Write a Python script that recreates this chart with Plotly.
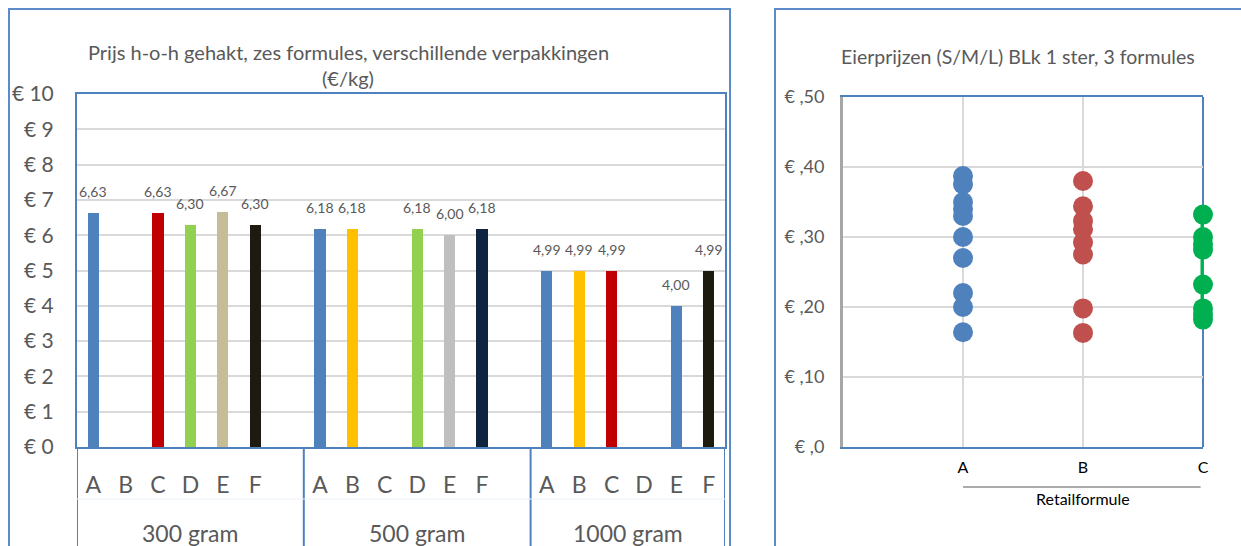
import plotly.graph_objects as go

# ---------------- data ----------------
groups = ["300 gram", "500 gram", "1000 gram"]
formules = ["A", "B", "C", "D", "E", "F"]
prices_300 = [6.63, None, 6.63, 6.30, 6.67, 6.30]
prices_500 = [6.18, 6.18, None, 6.18, 6.00, 6.18]
prices_1000 = [4.99, 4.99, 4.99, None, 4.00, 4.99]
colors_300 = ["#4F81BD", "#FFC000", "#C00000", "#92D050", "#C4BD97", "#1D1B10"]
colors_500 = ["#4F81BD", "#FFC000", "#C00000", "#92D050", "#BFBFBF", "#0F243E"]
colors_1000 = ["#4F81BD", "#FFC000", "#C00000", "#92D050", "#4F81BD", "#1D1B10"]
y_ticks_left = [0, 1, 2, 3, 4, 5, 6, 7, 8, 9, 10]
y_ticktext_left = ["€ 0", "€ 1", "€ 2", "€ 3", "€ 4", "€ 5", "€ 6", "€ 7", "€ 8", "€ 9", "€ 10"]
title_left = ["Prijs h-o-h gehakt, zes formules, verschillende verpakkingen", "(€/kg)"]

retail = ["A", "B", "C"]
eggs_A = [0.387, 0.375, 0.350, 0.340, 0.330, 0.300, 0.270, 0.220, 0.200, 0.164]
eggs_B = [0.380, 0.344, 0.323, 0.311, 0.292, 0.275, 0.198, 0.163]
eggs_C = [0.332, 0.300, 0.290, 0.282, 0.232, 0.198, 0.190, 0.182]
egg_colors = ["#4F81BD", "#C0504D", "#00B050"]
y_ticks_right = [0, 0.1, 0.2, 0.3, 0.4, 0.5]
y_ticktext_right = ["€ ,0", "€ ,10", "€ ,20", "€ ,30", "€ ,40", "€ ,50"]
title_right = "Eierprijzen (S/M/L) BLk 1 ster, 3 formules"
x_title_right = "Retailformule"

# ---------------- layout constants ----------------
W, H = 1241, 546
FONT = "Lato, Open Sans, sans-serif"
GREY = "#595959"
BLUE_LINE = "#4F81BD"
FRAME = "#5B8BC9"
GRID = "#D9D9D9"
SLOTS_PER_GROUP = 7


def px_x(v):
    return v / W


def px_y(v):
    return 1 - v / H


fig = go.Figure()

# ---------------- left chart: bars ----------------
all_prices = [prices_300, prices_500, prices_1000]
all_colors = [colors_300, colors_500, colors_1000]
bx, by, bc = [], [], []
for g, (vals, cols) in enumerate(zip(all_prices, all_colors)):
    for i, (v, c) in enumerate(zip(vals, cols)):
        if v is None:
            continue
        bx.append(g * SLOTS_PER_GROUP + i)
        by.append(v)
        bc.append(c)

fig.add_trace(go.Bar(x=bx, y=by, marker=dict(color=bc, line=dict(width=0)),
                     width=0.34, xaxis="x", yaxis="y", showlegend=False,
                     hoverinfo="skip"))

annotations = []
for x, v in zip(bx, by):
    annotations.append(dict(x=x, y=v, xref="x", yref="y", text=f"{v:.2f}".replace(".", ","),
                            showarrow=False, xanchor="center", yanchor="bottom", yshift=11,
                            font=dict(family=FONT, size=14, color=GREY)))

tick_pos, tick_txt = [], []
for g in range(len(groups)):
    for i, f in enumerate(formules):
        tick_pos.append(g * SLOTS_PER_GROUP + i)
        tick_txt.append(f)

n_slots = SLOTS_PER_GROUP * len(groups) - 1
x_range_left = [-0.5, n_slots - 0.5]

for g, name in enumerate(groups):
    start = g * SLOTS_PER_GROUP - 0.5
    end = min(start + SLOTS_PER_GROUP, n_slots - 0.5)
    annotations.append(dict(x=(start + end) / 2, y=px_y(533), xref="x", yref="paper",
                            text=name, showarrow=False, xanchor="center", yanchor="middle",
                            font=dict(family=FONT, size=23, color=GREY)))

annotations.append(dict(x=px_x(348), y=px_y(52), xref="paper", yref="paper", text=title_left[0],
                        showarrow=False, xanchor="center", yanchor="middle",
                        font=dict(family=FONT, size=20, color=GREY)))
annotations.append(dict(x=px_x(348), y=px_y(78), xref="paper", yref="paper", text=title_left[1],
                        showarrow=False, xanchor="center", yanchor="middle",
                        font=dict(family=FONT, size=20, color=GREY)))

shapes = []
for g in range(len(groups) + 1):
    xv = g * SLOTS_PER_GROUP - 0.5 if g < len(groups) else n_slots - 0.5
    shapes.append(dict(type="line", xref="x", yref="paper", x0=xv, x1=xv,
                       y0=px_y(447), y1=-0.02, line=dict(color=BLUE_LINE, width=2)))
shapes.append(dict(type="line", xref="x", yref="paper", x0=x_range_left[0], x1=x_range_left[1],
                   y0=px_y(499), y1=px_y(499), line=dict(color="#EAF0F8", width=1)))

shapes.append(dict(type="rect", xref="paper", yref="paper", x0=px_x(9), x1=px_x(730),
                   y0=-0.05, y1=px_y(9), line=dict(color=FRAME, width=2)))
shapes.append(dict(type="rect", xref="paper", yref="paper", x0=px_x(775), x1=1.05,
                   y0=-0.05, y1=px_y(9), line=dict(color=FRAME, width=2)))

# ---------------- right chart: dot plot ----------------
for k, (vals, col) in enumerate(zip([eggs_A, eggs_B, eggs_C], egg_colors)):
    is_last = k == len(retail) - 1
    fig.add_trace(go.Scatter(x=[k + 1] * len(vals), y=vals,
                             mode="lines+markers" if is_last else "markers",
                             line=dict(color=col, width=5),
                             marker=dict(color=col, size=20, line=dict(width=0)),
                             cliponaxis=False, xaxis="x2", yaxis="y2",
                             showlegend=False, hoverinfo="skip"))

shapes.append(dict(type="line", xref="paper", yref="paper", x0=px_x(1203), x1=px_x(1203),
                   y0=px_y(447), y1=px_y(97), line=dict(color=BLUE_LINE, width=2), layer="below"))
shapes.append(dict(type="line", xref="x2", yref="paper", x0=1, x1=2.98,
                   y0=px_y(487), y1=px_y(487), line=dict(color="#595959", width=1)))

annotations.append(dict(x=2, y=px_y(498), xref="x2", yref="paper", text=x_title_right,
                        showarrow=False, xanchor="center", yanchor="middle",
                        font=dict(family=FONT, size=16, color="#000000")))
annotations.append(dict(x=px_x(1018), y=px_y(57), xref="paper", yref="paper", text=title_right,
                        showarrow=False, xanchor="center", yanchor="middle",
                        font=dict(family=FONT, size=19.5, color=GREY)))

fig.update_layout(
    width=W, height=H,
    margin=dict(l=0, r=0, t=0, b=0, pad=0, autoexpand=False),
    paper_bgcolor="white", plot_bgcolor="white",
    bargap=0,
    xaxis=dict(domain=[px_x(77), px_x(725)], range=x_range_left, automargin=False,
               tickmode="array", tickvals=tick_pos, ticktext=tick_txt,
               showgrid=False, zeroline=False, showline=True, mirror=True,
               linecolor=BLUE_LINE, linewidth=2, ticks="", ticklabelstandoff=16,
               tickfont=dict(family=FONT, size=23, color=GREY)),
    yaxis=dict(domain=[px_y(447), px_y(94)], range=[0, 10], automargin=False,
               tickmode="array", tickvals=y_ticks_left, ticktext=y_ticktext_left,
               showgrid=True, gridcolor=GRID, gridwidth=2, zeroline=False,
               showline=True, mirror=True, linecolor=BLUE_LINE, linewidth=2,
               ticks="", ticklabelstandoff=17,
               tickfont=dict(family=FONT, size=21, color=GREY)),
    xaxis2=dict(domain=[px_x(843), px_x(1203)], range=[0, 3], anchor="y2", automargin=False,
                tickmode="array", tickvals=[1, 2, 3], ticktext=retail,
                showgrid=True, gridcolor=GRID, gridwidth=2, zeroline=False,
                showline=True, mirror=True, linecolor=BLUE_LINE, linewidth=2,
                ticks="", ticklabelstandoff=5,
                tickfont=dict(family=FONT, size=16, color="#000000")),
    yaxis2=dict(domain=[px_y(447), px_y(97)], range=[0, 0.5], anchor="x2", automargin=False,
                tickmode="array", tickvals=y_ticks_right, ticktext=y_ticktext_right,
                showgrid=True, gridcolor=GRID, gridwidth=2, zeroline=False,
                showline=True, linecolor="#A6A6A6", linewidth=3,
                ticks="", ticklabelstandoff=12,
                tickfont=dict(family=FONT, size=18, color=GREY)),
    annotations=annotations,
    shapes=shapes,
)

fig.write_html("out.html",
               config={"displayModeBar": False},
               post_script="document.body.style.margin='0';document.body.style.padding='0';"
                           "document.body.style.overflow='hidden';")
